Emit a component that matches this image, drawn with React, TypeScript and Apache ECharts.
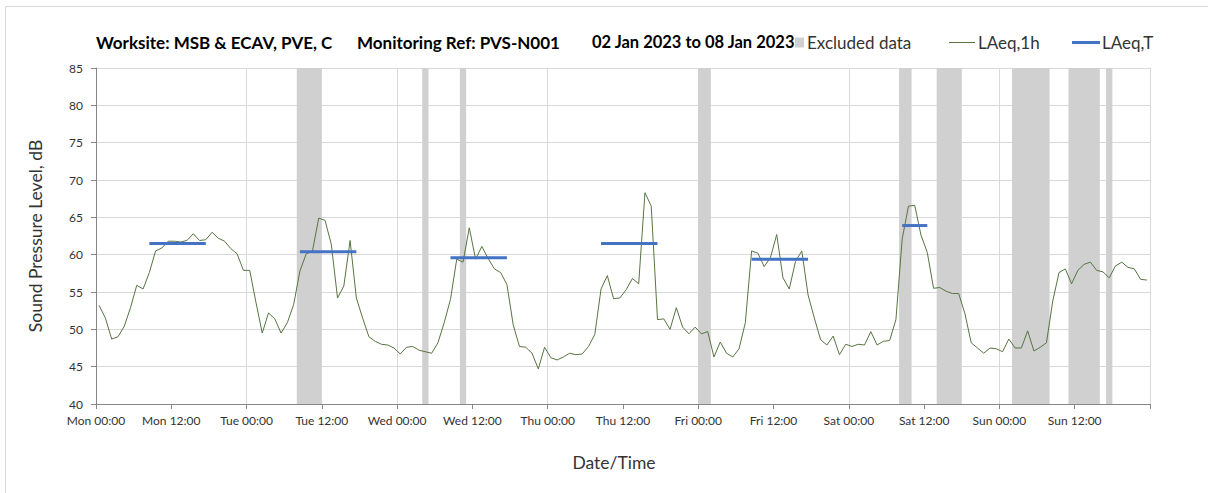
import React, { useEffect, useRef } from "react";
import * as echarts from "echarts";

// Hourly LAeq,1h values, one per hour from Mon 00:00 (168 hours)
const hourlyLevels = [
  53.2, 51.5, 48.7, 49.0, 50.4, 52.9, 55.9, 55.4, 57.6, 60.5, 60.9, 61.8, 61.8, 61.7, 61.9, 62.8, 61.9, 62.0, 63.0, 62.2, 61.8, 60.8, 60.1, 57.9,
  57.9, 53.6, 49.5, 52.2, 51.4, 49.5, 50.9, 53.3, 57.8, 60.1, 60.5, 64.9, 64.6, 61.4, 54.2, 55.8, 61.9, 54.2, 51.5, 49.0, 48.4, 48.0, 47.9, 47.5,
  46.7, 47.6, 47.7, 47.2, 47.0, 46.8, 48.2, 50.9, 54.0, 59.4, 59.0, 63.6, 59.4, 61.1, 59.5, 58.1, 57.6, 56.0, 50.6, 47.7, 47.6, 46.8, 44.7, 47.6,
  46.2, 45.9, 46.3, 46.8, 46.6, 46.7, 47.7, 49.3, 55.4, 57.2, 54.1, 54.2, 55.3, 56.8, 56.1, 68.3, 66.5, 51.3, 51.4, 50.0, 52.9, 50.3, 49.4, 50.3,
  49.4, 49.7, 46.3, 48.3, 46.8, 46.3, 47.4, 50.9, 60.5, 60.2, 58.4, 59.6, 62.7, 56.9, 55.4, 59.1, 60.5, 54.6, 51.5, 48.6, 47.9, 49.1, 46.6, 48.0,
  47.7, 48.0, 47.9, 49.7, 47.9, 48.4, 48.5, 51.3, 62.1, 66.5, 66.6, 62.6, 60.3, 55.5, 55.6, 55.1, 54.8, 54.8, 52.1, 48.2, 47.5, 46.8, 47.5, 47.4,
  47.0, 48.7, 47.5, 47.5, 49.8, 47.1, 47.6, 48.2, 53.8, 57.6, 58.1, 56.1, 57.9, 58.7, 59.0, 57.9, 57.7, 56.9, 58.5, 59.0, 58.3, 58.1, 56.7, 56.6,
];

// Excluded data periods (hours from Mon 00:00)
const excludedStart = [32, 52, 58, 96, 128, 134, 146, 155, 161];
const excludedEnd = [36, 53, 59, 98, 130, 138, 152, 160, 162];

// LAeq,T periods (hours from Mon 00:00) and levels
const periodStart = [8, 32, 56, 80, 104, 128];
const periodEnd = [18, 42, 66, 90, 114, 133];
const periodLevels = [61.5, 60.4, 59.6, 61.5, 59.4, 63.9];

const xTickLabels = [
  "Mon 00:00", "Mon 12:00", "Tue 00:00", "Tue 12:00", "Wed 00:00", "Wed 12:00", "Thu 00:00",
  "Thu 12:00", "Fri 00:00", "Fri 12:00", "Sat 00:00", "Sat 12:00", "Sun 00:00", "Sun 12:00",
];

const FONT = "Lato";

export default function App() {
  const ref = useRef<HTMLDivElement>(null);

  useEffect(() => {
    if (!ref.current) return;
    const chart = echarts.init(ref.current, null, { renderer: "svg" });

    const lineData = hourlyLevels.map((v, i) => [i + 0.5, v]);
    const excludedData = excludedStart.map((s, k) => [s, excludedEnd[k], 40, 85]);
    const periodData = periodStart.map((s, k) => [s + 0.5, periodEnd[k] - 0.5, periodLevels[k]]);

    const legendText = { fontFamily: FONT, fontSize: 17, color: "#333" };

    const option: any = {
      animation: false,
      backgroundColor: "#fff",
      textStyle: { fontFamily: FONT },
      grid: { left: 96, top: 68, width: 1054, height: 336, containLabel: false },
      legend: [
        {
          data: [{ name: "Excluded data", icon: "rect" }],
          left: 790, top: 29, itemWidth: 9, itemHeight: 10,
          textStyle: { ...legendText, padding: [0, 0, 0, -2] },
        },
        {
          data: [{ name: "LAeq,1h", icon: "rect" }],
          left: 944, top: 29, itemWidth: 26, itemHeight: 1,
          textStyle: { ...legendText, padding: [0, 0, 0, -2] },
        },
        {
          data: [{ name: "LAeq,T", icon: "rect" }],
          left: 1067, top: 29, itemWidth: 28, itemHeight: 3,
          textStyle: { ...legendText, padding: [0, 0, 0, -3] },
        },
      ],
      xAxis: [
        {
          type: "value", min: 0, max: 168, interval: 12,
          axisLine: { show: true, lineStyle: { color: "#868686", width: 1 } },
          axisTick: { show: true, length: 5, lineStyle: { color: "#868686" } },
          axisLabel: {
            fontFamily: FONT, fontSize: 12, color: "#333", margin: 10,
            formatter: (v: number) => xTickLabels[Math.round(v / 12)] ?? "",
          },
          splitLine: { show: false },
        },
        {
          type: "value", min: 0, max: 168, interval: 24, position: "bottom",
          axisLine: { show: false }, axisTick: { show: false }, axisLabel: { show: false },
          splitLine: { show: true, lineStyle: { color: "#d9d9d9", width: 1 } },
        },
      ],
      yAxis: {
        type: "value", min: 40, max: 85, interval: 5,
        axisLine: { show: true, lineStyle: { color: "#868686", width: 1 } },
        axisTick: { show: true, length: 5, lineStyle: { color: "#868686" } },
        axisLabel: { fontFamily: FONT, fontSize: 12, color: "#333", margin: 13 },
        splitLine: { show: true, lineStyle: { color: "#d9d9d9", width: 1 } },
      },
      graphic: [
        {
          type: "rect", x: 5.5, y: 6.5, silent: true, z: -10,
          shape: { x: 0, y: 0, width: 1230, height: 520 },
          style: { fill: "none", stroke: "#d9d9d9", lineWidth: 1 },
        },
        {
          type: "text", x: 96, y: 42,
          style: { text: "Worksite: MSB & ECAV, PVE, C", fontFamily: FONT, fontSize: 17, fontWeight: "bold", fill: "#000", verticalAlign: "middle" },
        },
        {
          type: "text", x: 357, y: 42,
          style: { text: "Monitoring Ref: PVS-N001", fontFamily: FONT, fontSize: 17, fontWeight: "bold", fill: "#000", verticalAlign: "middle" },
        },
        {
          type: "text", x: 592, y: 42,
          style: { text: "02 Jan 2023 to 08 Jan 2023", fontFamily: FONT, fontSize: 16.5, fontWeight: "bold", fill: "#000", verticalAlign: "middle" },
        },
        {
          type: "text", x: 35, y: 236, rotation: Math.PI / 2,
          style: { text: "Sound Pressure Level, dB", fontFamily: FONT, fontSize: 17.5, fill: "#333", align: "center", verticalAlign: "middle" },
        },
        {
          type: "text", x: 614, y: 462,
          style: { text: "Date/Time", fontFamily: FONT, fontSize: 17.5, fill: "#333", align: "center", verticalAlign: "middle" },
        },
      ],
      series: [
        {
          name: "Excluded data",
          type: "custom",
          xAxisIndex: 0,
          z: 1,
          itemStyle: { color: "#d0d0d0" },
          encode: { x: [0, 1], y: [2, 3] },
          data: excludedData,
          renderItem: (params: any, api: any) => {
            const p0 = api.coord([api.value(0), api.value(3)]);
            const p1 = api.coord([api.value(1), api.value(2)]);
            return {
              type: "rect",
              shape: { x: p0[0], y: p0[1], width: p1[0] - p0[0], height: p1[1] - p0[1] },
              style: { fill: "#d0d0d0" },
            };
          },
        },
        {
          name: "LAeq,1h",
          type: "line",
          xAxisIndex: 0,
          z: 3,
          showSymbol: false,
          symbol: "none",
          itemStyle: { color: "#577442" },
          lineStyle: { color: "#577442", width: 1 },
          data: lineData,
        },
        {
          name: "LAeq,T",
          type: "custom",
          xAxisIndex: 0,
          z: 4,
          itemStyle: { color: "#4472c4" },
          encode: { x: [0, 1], y: 2 },
          data: periodData,
          renderItem: (params: any, api: any) => {
            const a = api.coord([api.value(0), api.value(2)]);
            const b = api.coord([api.value(1), api.value(2)]);
            return {
              type: "line",
              shape: { x1: a[0], y1: a[1], x2: b[0], y2: b[1] },
              style: { stroke: "#4472c4", lineWidth: 3 },
            };
          },
        },
      ],
    };

    chart.setOption(option);
    return () => chart.dispose();
  }, []);

  return (
    <div
      ref={ref}
      style={{ position: "fixed", left: 0, top: 0, width: 1208, height: 493 }}
    />
  );
}
